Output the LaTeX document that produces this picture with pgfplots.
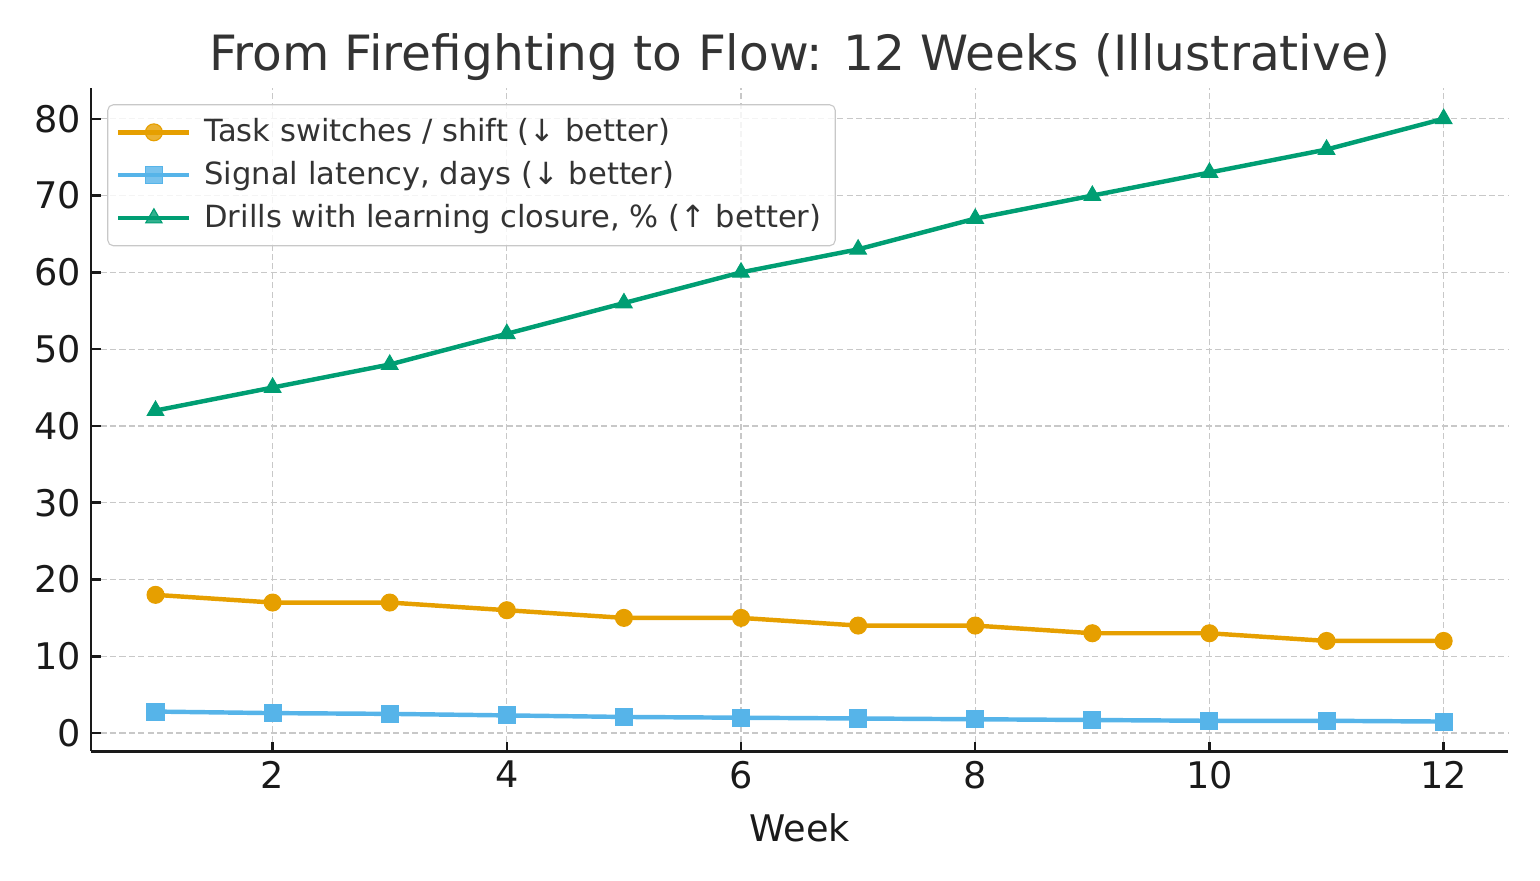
\documentclass[border=0pt]{standalone}
\usepackage{pgfplots}
\pgfplotsset{compat=1.18}
\usepackage{fontspec}
\setmainfont{DejaVu Sans}
\definecolor{cOrange}{HTML}{E69F00}
\definecolor{cBlue}{HTML}{56B4E9}
\definecolor{cGreen}{HTML}{009E73}
\definecolor{cText}{HTML}{333333}
\definecolor{cAx}{HTML}{1A1A1A}
\definecolor{cGrid}{HTML}{C8C8C8}
\begin{document}
\begin{tikzpicture}
\path[use as bounding box] (-32.8pt,-46.4pt) rectangle (521.6pt,270.4pt);
\begin{axis}[
  scale only axis,
  width=510.1pt, height=238.7pt,
  xmin=0.45, xmax=12.55,
  ymin=-2.35, ymax=84.0,
  xtick={2,4,6,8,10,12},
  ytick={0,10,20,30,40,50,60,70,80},
  axis x line*=bottom, axis y line*=left,
  axis line style={-, line width=1pt, color=cAx},
  tick align=inside,
  major tick length=3.4pt,
  tick style={line width=0.9pt, color=cAx},
  grid=major,
  grid style={dash pattern=on 2.2pt off 1.2pt, line width=0.45pt, color=cGrid},
  /pgf/number format/assume math mode=true,
  ticklabel style={font=\fontsize{13.2}{15}\selectfont, color=cAx},
  xlabel={Week},
  xlabel style={font=\fontsize{13.2}{15}\selectfont, color=cAx, at={(axis description cs:0.5,0)}, anchor=center, yshift=-27.5pt},
  title={From Firefighting to Flow: 12 Weeks (Illustrative)},
  title style={font=\fontsize{17.5}{21}\selectfont, color=cText, at={(axis description cs:0.5,1)}, anchor=center, yshift=5pt},
  legend cell align=left,
  legend style={at={(axis description cs:0,1)}, anchor=north west, xshift=5.8pt, yshift=-5.8pt,
    draw=cGrid, rounded corners=2pt, fill=white, fill opacity=0.8, text opacity=1,
    font=\fontsize{11}{13}\selectfont, text=cText, row sep=1.6pt, inner sep=3pt},
  /tikz/every odd column/.append style={column sep=2.6pt},
  legend image code/.code={\draw[mark repeat=2,mark phase=2,#1] plot coordinates {(0cm,0cm)(0.45cm,0cm)(0.9cm,0cm)};},
]
\addplot[color=cOrange, line width=1.6pt, mark=*, mark size=3.05pt, mark options={solid, line width=0.4pt}] coordinates {
(1,18)(2,17)(3,17)(4,16)(5,15)(6,15)(7,14)(8,14)(9,13)(10,13)(11,12)(12,12)};
\addlegendentry{Task switches / shift (↓ better)}
\addplot[color=cBlue, line width=1.6pt, mark=square*, mark size=3.05pt, mark options={solid, line width=0.4pt}] coordinates {
(1,2.8)(2,2.6)(3,2.5)(4,2.3)(5,2.1)(6,2.0)(7,1.9)(8,1.8)(9,1.7)(10,1.6)(11,1.6)(12,1.5)};
\addlegendentry{Signal latency, days (↓ better)}
\addplot[color=cGreen, line width=1.6pt, mark=triangle*, mark size=3.4pt, mark options={solid, line width=0.4pt}] coordinates {
(1,42)(2,45)(3,48)(4,52)(5,56)(6,60)(7,63)(8,67)(9,70)(10,73)(11,76)(12,80)};
\addlegendentry{Drills with learning closure, \% (↑ better)}
\end{axis}
\end{tikzpicture}
\end{document}
